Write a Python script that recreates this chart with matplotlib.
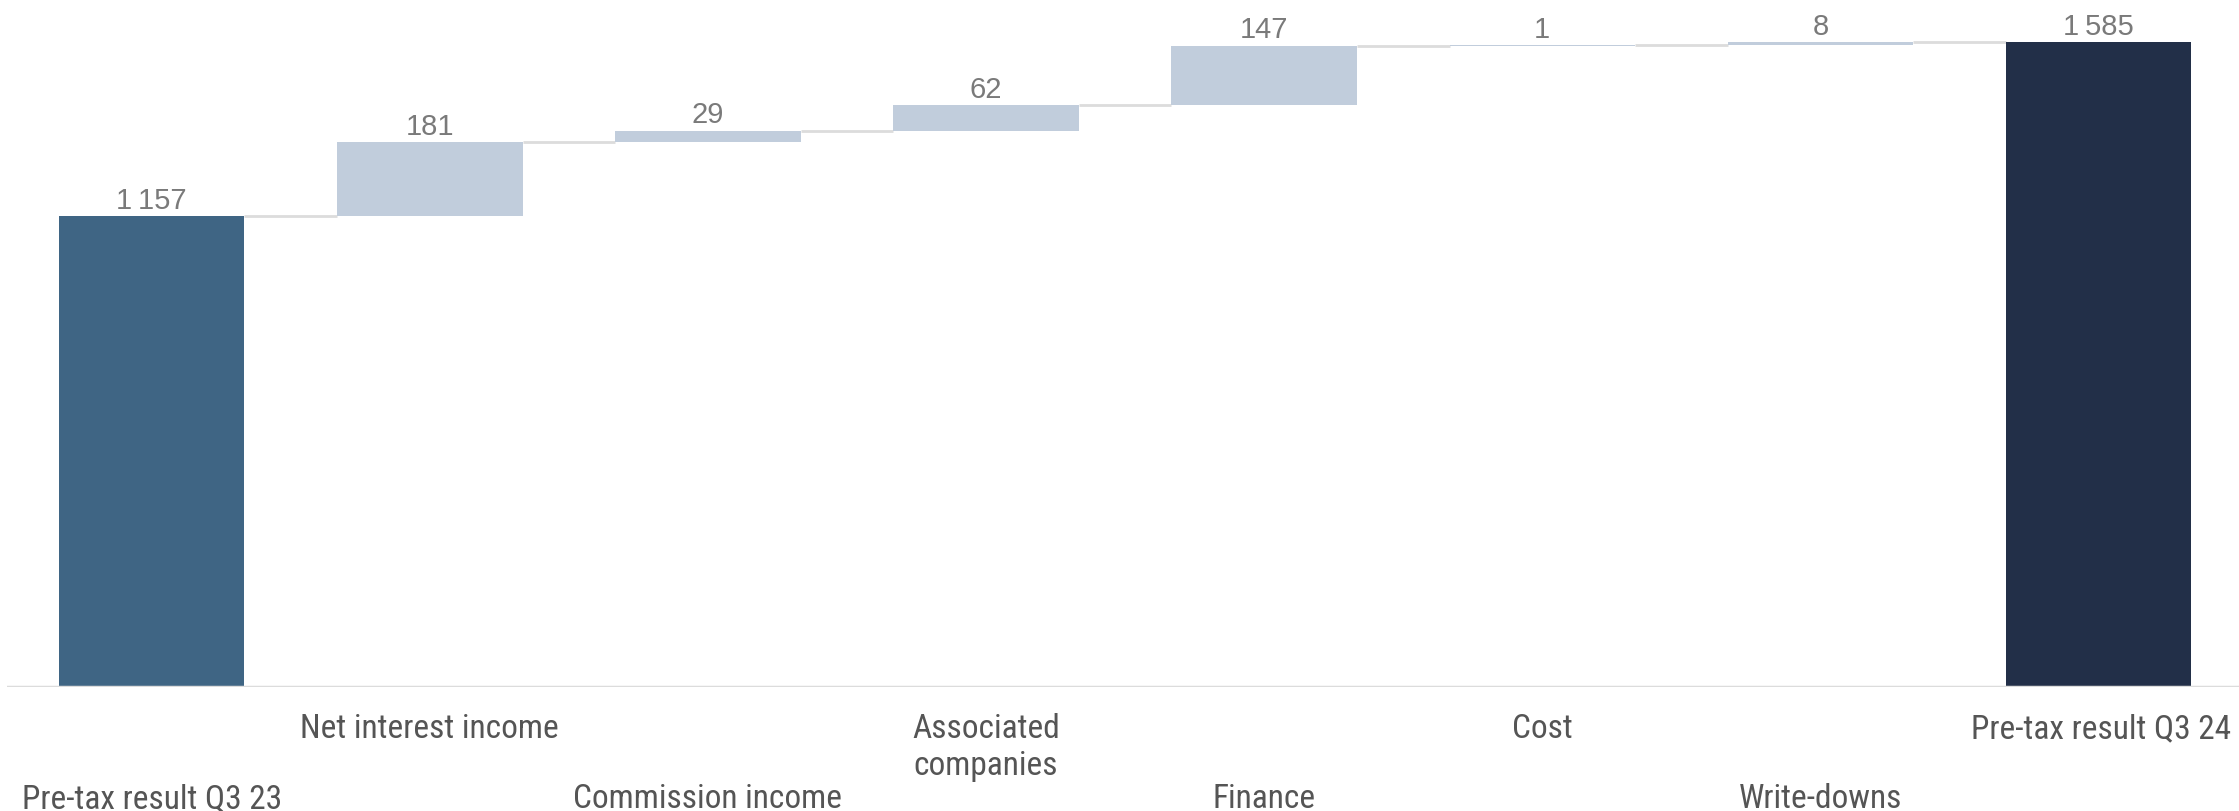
import matplotlib.pyplot as plt
from matplotlib import transforms

# Waterfall: start, changes, end
categories = ["Pre-tax result Q3 23", "Net interest income", "Commission income",
              "Associated\ncompanies", "Finance", "Cost", "Write-downs",
              "Pre-tax result Q3 24"]
start_value = 1157
changes = [181, 29, 62, 147, 1, 8]
end_value = 1585

START_COLOR = "#3f6584"
END_COLOR = "#222f48"
DELTA_COLOR = "#c1cddc"
LINE_COLOR = "#dcdcdc"
VALUE_COLOR = "#7a7a7a"
LABEL_COLOR = "#555555"
LABEL_FONT = ["Roboto Condensed", "Liberation Sans Narrow", "Roboto", "DejaVu Sans"]
VALUE_FONT = ["Liberation Sans", "DejaVu Sans"]


def fmt(v):
    s = f"{v:,}"
    return s.replace(",", "\u2009")


bottoms = [0]
heights = [start_value]
running = start_value
for c in changes:
    bottoms.append(running)
    heights.append(c)
    running += c
bottoms.append(0)
heights.append(end_value)
colors = [START_COLOR] + [DELTA_COLOR] * len(changes) + [END_COLOR]
values = [start_value] + changes + [end_value]

fig = plt.figure(figsize=(22.39, 8.11), dpi=100)
ax = fig.add_axes([7 / 2239, (811 - 687) / 811, 1 - 7 / 2239, 687 / 811])

width = 0.667
x = list(range(len(categories)))
ax.bar(x, heights, bottom=bottoms, width=width, color=colors, zorder=2)

# connectors between bars
for i in range(len(categories) - 1):
    level = bottoms[i] + heights[i]
    ax.plot([i + width / 2, i + 1 - width / 2], [level, level],
            color=LINE_COLOR, lw=2, zorder=1, solid_capstyle="butt")

for i, v in enumerate(values):
    top = bottoms[i] + heights[i]
    ax.annotate(fmt(v), (i, top), xytext=(0, 1), textcoords="offset points",
                ha="center", va="bottom", fontsize=21, color=VALUE_COLOR,
                family=VALUE_FONT)

ax.set_xlim(-0.52, 7.505)
ax.set_ylim(0, 1688)
ax.axhline(0, color=LINE_COLOR, lw=2.5, zorder=3)
for s in ax.spines.values():
    s.set_visible(False)
ax.set_xticks([])
ax.set_yticks([])

trans = transforms.blended_transform_factory(ax.transData, fig.transFigure)
for i, name in enumerate(categories):
    y = 1 - 713 / 811 if i % 2 == 1 else 1 - 783 / 811
    if i == len(categories) - 1:
        ax.text(0.9965, y, name, transform=transforms.blended_transform_factory(
            fig.transFigure, fig.transFigure), ha="right", va="top",
            fontsize=24, color=LABEL_COLOR, family=LABEL_FONT, linespacing=1.2)
    else:
        ax.text(i, y, name, transform=trans, ha="center", va="top",
                fontsize=24, color=LABEL_COLOR, family=LABEL_FONT, linespacing=1.2)

fig.savefig("out.png", dpi=100)
